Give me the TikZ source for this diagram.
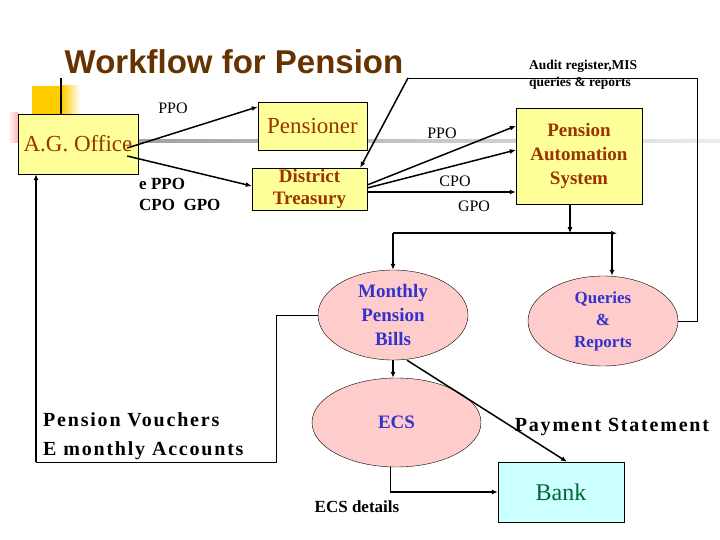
\documentclass[tikz,border=0pt]{standalone}
\usepackage{fontspec}
\setmainfont{Liberation Serif}
\newfontfamily\headfont{Liberation Sans}
\newfontfamily\spacedfont[LetterSpace=9]{Liberation Serif}
\usetikzlibrary{shapes.geometric,arrows.meta}
\definecolor{titlebrown}{RGB}{102,51,0}
\definecolor{boxbrown}{RGB}{153,51,0}
\definecolor{boxyellow}{RGB}{255,255,153}
\definecolor{ovalpink}{RGB}{255,204,204}
\definecolor{ovalblue}{RGB}{51,51,204}
\definecolor{bankcyan}{RGB}{204,255,255}
\definecolor{bankgreen}{RGB}{0,102,51}
\definecolor{accentgold}{RGB}{255,204,0}

\begin{document}
\begin{tikzpicture}[x=1pt, y=-1pt,
    yellowbox/.style={draw, fill=boxyellow, text=boxbrown, inner sep=0pt, align=center},
    pinkoval/.style={draw, ellipse, fill=ovalpink, text=ovalblue, inner sep=0pt, align=center},
    flow/.style={-{Latex[length=6pt,width=5pt]}, line width=1.5pt},
    thinline/.style={line width=0.8pt},
    lbl/.style={inner sep=0pt, align=left}]
  \useasboundingbox (0,0) rectangle (720,540);
  % slide template
  \fill[accentgold] (32,86) rectangle (62,114);
  \shade[left color=accentgold, right color=white] (62,86) rectangle (80,114);
  \shade[left color=white, right color=red!30] (8,113) rectangle (18,143);
  \shade[left color=gray!75, right color=gray!15] (130,139.5) rectangle (720,142.5);
  \draw[line width=1.5pt] (61,78) -- (61,114);
  \node[font=\headfont\bfseries\fontsize{33}{38}\selectfont, text=titlebrown] (title) at (234,62) {Workflow for Pension};

  % boxes and ovals
  \node[yellowbox, minimum width=120pt, minimum height=60pt, font=\fontsize{23}{26}\selectfont] (ag) at (78,144) {A.G. Office};
  \node[yellowbox, minimum width=109pt, minimum height=48pt, font=\fontsize{23}{26}\selectfont] (pensioner) at (312.5,126) {Pensioner};
  \node[yellowbox, minimum width=115pt, minimum height=42pt, font=\bfseries\fontsize{19}{22}\selectfont] (treasury) at (309.5,189) {District\\Treasury};
  \node[yellowbox, minimum width=126pt, minimum height=96pt, font=\bfseries\fontsize{19}{24}\selectfont] (pas) at (579,156) {Pension\\Automation\\System};
  \node[pinkoval, minimum width=150pt, minimum height=90pt, font=\bfseries\fontsize{19}{24}\selectfont] (monthly) at (393,315) {Monthly\\Pension\\Bills};
  \node[pinkoval, minimum width=150pt, minimum height=90pt, font=\bfseries\fontsize{17}{22}\selectfont] (queries) at (603,321) {Queries\\\&\\Reports};
  \node[pinkoval, minimum width=169pt, minimum height=89pt, font=\bfseries\fontsize{19}{22}\selectfont] (ecs) at (396.5,422.5) {ECS};
  \node[draw, fill=bankcyan, text=bankgreen, inner sep=0pt, minimum width=126pt, minimum height=60pt, font=\fontsize{24}{26}\selectfont] (bank) at (561,492) {Bank};

  % labels
  \node[lbl, font=\fontsize{16}{18}\selectfont] (ppoag) at (173,108) {PPO};
  \node[lbl, anchor=west, font=\bfseries\fontsize{17}{21}\selectfont] (codes) at (139,194.5) {e PPO\\CPO\ \ GPO};
  \node[lbl, anchor=west, font=\bfseries\fontsize{13.5}{17}\selectfont] (audit) at (529,74.5) {Audit register,MIS\\queries \& reports};
  \node[lbl, font=\fontsize{16}{18}\selectfont] (ppopas) at (442,133) {PPO};
  \node[lbl, font=\fontsize{16}{18}\selectfont] (cpopas) at (455,181) {CPO};
  \node[lbl, font=\fontsize{16}{18}\selectfont] (gpopas) at (474,206) {GPO};
  \node[lbl, anchor=west, font=\spacedfont\bfseries\fontsize{20}{29}\selectfont] (vouchers) at (43,436.5) {Pension Vouchers\\E monthly Accounts};
  \node[lbl, font=\spacedfont\bfseries\fontsize{20}{24}\selectfont] (payment) at (612,427) {Payment Statement};
  \node[lbl, font=\bfseries\fontsize{17}{20}\selectfont] (ecsdetails) at (357,507) {ECS details};

  % connectors
  \draw[flow] ([xshift=-11pt,yshift=-4pt]ag.east) -- ([yshift=-5pt]pensioner.north west);
  \draw[flow] ([xshift=-11pt,yshift=-12pt]ag.east) -- ([yshift=3pt]treasury.west);
  \draw[flow] ([yshift=4pt]treasury.east) -- ([yshift=30pt]pas.west);
  \draw[flow] ([yshift=1pt]treasury.east) -- ([yshift=6pt]pas.west);
  \draw[flow] ([yshift=-3pt]treasury.east) -- ([yshift=-36pt]pas.west);
  \coordinate (auditbend) at (408,78);
  \draw[thinline] (queries.east) -- ++(19,0) |- (auditbend);
  \draw[flow] (auditbend) -- ([xshift=-7pt]treasury.north east);
  \draw[flow] ([xshift=-9pt]pas.south) -- ++(0,29) coordinate (drop);
  \draw[flow] (monthly.north |- drop) -- ++(224,0);
  \draw[flow] (monthly.north |- drop) -- (monthly.north);
  \coordinate (qin) at ([xshift=9pt]queries.north);
  \draw[flow] (qin |- drop) -- (qin);
  \draw[flow] (monthly.south) -- (monthly.south |- ecs.north);
  \draw[flow] ([xshift=14pt]monthly.south) -- ([xshift=6pt]bank.north);
  \coordinate (vouchbase) at (36,462);
  \draw[thinline] (monthly.west) -- ++(-41,0) coordinate (vr) -- (vr |- vouchbase) -- (vouchbase);
  \draw[flow] (vouchbase) -- (vouchbase |- ag.south);
  \coordinate (ecsout) at ([xshift=-6pt]ecs.south);
  \draw[flow] (ecsout) |- (bank.west);
\end{tikzpicture}
\end{document}
